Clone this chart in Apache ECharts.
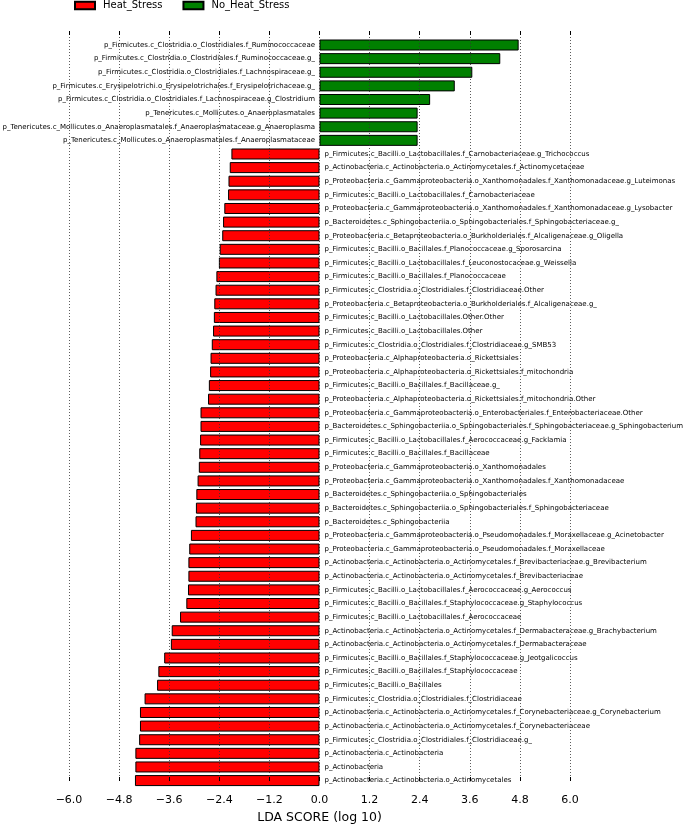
<!DOCTYPE html>
<html>
<head>
<meta charset="utf-8">
<script src="https://cdn.jsdelivr.net/npm/echarts@6/dist/echarts.min.js"></script>
<style>
html,body{margin:0;padding:0;background:#fff;}
#chart{width:685px;height:829px;}
</style>
</head>
<body>
<div id="chart"></div>
<script>
// Features enriched in No_Heat_Stress (positive LDA)
const noHeatCategories = [
  "p_Firmicutes.c_Clostridia.o_Clostridiales.f_Ruminococcaceae",
  "p_Firmicutes.c_Clostridia.o_Clostridiales.f_Ruminococcaceae.g_",
  "p_Firmicutes.c_Clostridia.o_Clostridiales.f_Lachnospiraceae.g_",
  "p_Firmicutes.c_Erysipelotrichi.o_Erysipelotrichales.f_Erysipelotrichaceae.g_",
  "p_Firmicutes.c_Clostridia.o_Clostridiales.f_Lachnospiraceae.g_Clostridium",
  "p_Tenericutes.c_Mollicutes.o_Anaeroplasmatales",
  "p_Tenericutes.c_Mollicutes.o_Anaeroplasmatales.f_Anaeroplasmataceae.g_Anaeroplasma",
  "p_Tenericutes.c_Mollicutes.o_Anaeroplasmatales.f_Anaeroplasmataceae"
];
const noHeatScores = [4.77, 4.33, 3.66, 3.24, 2.65, 2.35, 2.35, 2.35];

// Features enriched in Heat_Stress (negative LDA)
const heatCategories = [
  "p_Firmicutes.c_Bacilli.o_Lactobacillales.f_Carnobacteriaceae.g_Trichococcus",
  "p_Actinobacteria.c_Actinobacteria.o_Actinomycetales.f_Actinomycetaceae",
  "p_Proteobacteria.c_Gammaproteobacteria.o_Xanthomonadales.f_Xanthomonadaceae.g_Luteimonas",
  "p_Firmicutes.c_Bacilli.o_Lactobacillales.f_Carnobacteriaceae",
  "p_Proteobacteria.c_Gammaproteobacteria.o_Xanthomonadales.f_Xanthomonadaceae.g_Lysobacter",
  "p_Bacteroidetes.c_Sphingobacteriia.o_Sphingobacteriales.f_Sphingobacteriaceae.g_",
  "p_Proteobacteria.c_Betaproteobacteria.o_Burkholderiales.f_Alcaligenaceae.g_Oligella",
  "p_Firmicutes.c_Bacilli.o_Bacillales.f_Planococcaceae.g_Sporosarcina",
  "p_Firmicutes.c_Bacilli.o_Lactobacillales.f_Leuconostocaceae.g_Weissella",
  "p_Firmicutes.c_Bacilli.o_Bacillales.f_Planococcaceae",
  "p_Firmicutes.c_Clostridia.o_Clostridiales.f_Clostridiaceae.Other",
  "p_Proteobacteria.c_Betaproteobacteria.o_Burkholderiales.f_Alcaligenaceae.g_",
  "p_Firmicutes.c_Bacilli.o_Lactobacillales.Other.Other",
  "p_Firmicutes.c_Bacilli.o_Lactobacillales.Other",
  "p_Firmicutes.c_Clostridia.o_Clostridiales.f_Clostridiaceae.g_SMB53",
  "p_Proteobacteria.c_Alphaproteobacteria.o_Rickettsiales",
  "p_Proteobacteria.c_Alphaproteobacteria.o_Rickettsiales.f_mitochondria",
  "p_Firmicutes.c_Bacilli.o_Bacillales.f_Bacillaceae.g_",
  "p_Proteobacteria.c_Alphaproteobacteria.o_Rickettsiales.f_mitochondria.Other",
  "p_Proteobacteria.c_Gammaproteobacteria.o_Enterobacteriales.f_Enterobacteriaceae.Other",
  "p_Bacteroidetes.c_Sphingobacteriia.o_Sphingobacteriales.f_Sphingobacteriaceae.g_Sphingobacterium",
  "p_Firmicutes.c_Bacilli.o_Lactobacillales.f_Aerococcaceae.g_Facklamia",
  "p_Firmicutes.c_Bacilli.o_Bacillales.f_Bacillaceae",
  "p_Proteobacteria.c_Gammaproteobacteria.o_Xanthomonadales",
  "p_Proteobacteria.c_Gammaproteobacteria.o_Xanthomonadales.f_Xanthomonadaceae",
  "p_Bacteroidetes.c_Sphingobacteriia.o_Sphingobacteriales",
  "p_Bacteroidetes.c_Sphingobacteriia.o_Sphingobacteriales.f_Sphingobacteriaceae",
  "p_Bacteroidetes.c_Sphingobacteriia",
  "p_Proteobacteria.c_Gammaproteobacteria.o_Pseudomonadales.f_Moraxellaceae.g_Acinetobacter",
  "p_Proteobacteria.c_Gammaproteobacteria.o_Pseudomonadales.f_Moraxellaceae",
  "p_Actinobacteria.c_Actinobacteria.o_Actinomycetales.f_Brevibacteriaceae.g_Brevibacterium",
  "p_Actinobacteria.c_Actinobacteria.o_Actinomycetales.f_Brevibacteriaceae",
  "p_Firmicutes.c_Bacilli.o_Lactobacillales.f_Aerococcaceae.g_Aerococcus",
  "p_Firmicutes.c_Bacilli.o_Bacillales.f_Staphylococcaceae.g_Staphylococcus",
  "p_Firmicutes.c_Bacilli.o_Lactobacillales.f_Aerococcaceae",
  "p_Actinobacteria.c_Actinobacteria.o_Actinomycetales.f_Dermabacteraceae.g_Brachybacterium",
  "p_Actinobacteria.c_Actinobacteria.o_Actinomycetales.f_Dermabacteraceae",
  "p_Firmicutes.c_Bacilli.o_Bacillales.f_Staphylococcaceae.g_Jeotgalicoccus",
  "p_Firmicutes.c_Bacilli.o_Bacillales.f_Staphylococcaceae",
  "p_Firmicutes.c_Bacilli.o_Bacillales",
  "p_Firmicutes.c_Clostridia.o_Clostridiales.f_Clostridiaceae",
  "p_Actinobacteria.c_Actinobacteria.o_Actinomycetales.f_Corynebacteriaceae.g_Corynebacterium",
  "p_Actinobacteria.c_Actinobacteria.o_Actinomycetales.f_Corynebacteriaceae",
  "p_Firmicutes.c_Clostridia.o_Clostridiales.f_Clostridiaceae.g_",
  "p_Actinobacteria.c_Actinobacteria",
  "p_Actinobacteria",
  "p_Actinobacteria.c_Actinobacteria.o_Actinomycetales"
];
const heatScores = [
  -2.11, -2.15, -2.18, -2.19, -2.28, -2.31, -2.33, -2.39, -2.41, -2.47,
  -2.49, -2.52, -2.53, -2.55, -2.58, -2.61, -2.62, -2.65, -2.67, -2.85,
  -2.85, -2.86, -2.88, -2.89, -2.92, -2.95, -2.96, -2.97, -3.08, -3.12,
  -3.14, -3.14, -3.15, -3.19, -3.34, -3.54, -3.56, -3.72, -3.86, -3.89,
  -4.19, -4.30, -4.30, -4.32, -4.41, -4.41, -4.42
];

const groupNames = ["Heat_Stress", "No_Heat_Stress"];
const axisMin = -6.0, axisMax = 6.0, axisStep = 1.2;
const axisTitle = "LDA SCORE (log 10)";

const categories = noHeatCategories.concat(heatCategories);
const noHeatData = noHeatScores.concat(heatCategories.map(() => '-'));
const heatData = noHeatCategories.map(() => '-').concat(heatScores);

const FONT = "DejaVu Sans";
const fmt = v => {
  if (Math.abs(v) < 1e-9) return "0.0";
  return (v < 0 ? "\u2212" : "") + Math.abs(v).toFixed(1);
};

const chart = echarts.init(document.getElementById('chart'));
chart.setOption({
  animation: false,
  backgroundColor: '#fff',
  textStyle: { fontFamily: FONT },
  legend: {
    data: groupNames,
    left: 74, top: 0.5, padding: 0,
    itemWidth: 20, itemHeight: 7.5, itemGap: 20,
    icon: 'rect',
    textStyle: { fontSize: 10, fontFamily: FONT, color: '#000', padding: [0, 0, 0, 3] }
  },
  grid: [
    { left: 69, width: 501, top: 31, height: 763 },
    { left: 69, width: 501, top: 38.2, height: 749.2 }
  ],
  xAxis: [
    {
      gridIndex: 0, type: 'value', min: axisMin, max: axisMax, interval: axisStep,
      position: 'bottom', z: 5,
      axisLine: { show: false },
      axisTick: { show: true, inside: true, length: 4, lineStyle: { color: '#000', width: 1 } },
      axisLabel: { formatter: fmt, fontSize: 11, color: '#000', fontFamily: FONT, margin: 14 },
      splitLine: { show: true, lineStyle: { color: '#333', width: 0.8, type: [1, 2] } },
      name: axisTitle, nameLocation: 'middle', nameGap: 30,
      nameTextStyle: { fontSize: 12.5, color: '#000', fontFamily: FONT }
    },
    {
      gridIndex: 0, type: 'value', min: axisMin, max: axisMax, interval: axisStep,
      position: 'top', z: 5,
      axisLine: { show: false },
      axisTick: { show: true, inside: true, length: 4, lineStyle: { color: '#000', width: 1 } },
      axisLabel: { show: false },
      splitLine: { show: false }
    },
    {
      gridIndex: 1, type: 'value', min: axisMin, max: axisMax, show: false,
      splitLine: { show: false }
    }
  ],
  yAxis: [
    { gridIndex: 0, type: 'value', min: 0, max: 1, show: false, splitLine: { show: false } },
    { gridIndex: 1, type: 'category', data: categories, inverse: true, show: false }
  ],
  series: [
    {
      name: groupNames[0], type: 'bar', xAxisIndex: 2, yAxisIndex: 1,
      data: heatData, barWidth: 11, barGap: '-100%',
      itemStyle: { color: '#ff0000', borderColor: '#000', borderWidth: 1 },
      label: { show: true, position: 'right', distance: 5, formatter: '{b}',
               fontSize: 7, fontFamily: FONT, color: '#000' }
    },
    {
      name: groupNames[1], type: 'bar', xAxisIndex: 2, yAxisIndex: 1,
      data: noHeatData, barWidth: 11, barGap: '-100%',
      itemStyle: { color: '#008000', borderColor: '#000', borderWidth: 1 },
      label: { show: true, position: 'left', distance: 4.5, formatter: '{b}',
               fontSize: 7, fontFamily: FONT, color: '#000' }
    }
  ]
});
</script>
</body>
</html>
